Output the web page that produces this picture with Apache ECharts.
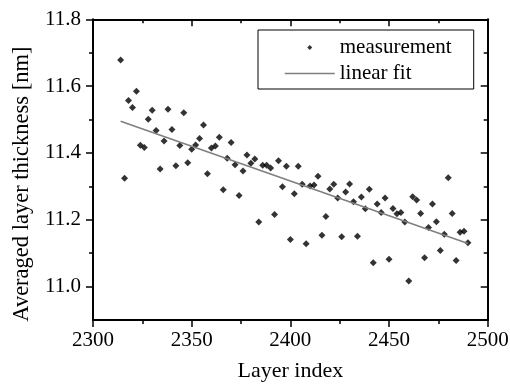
<!DOCTYPE html>
<html><head><meta charset="utf-8">
<script src="https://cdn.jsdelivr.net/npm/echarts@6/dist/echarts.min.js"></script>
<style>html,body{margin:0;padding:0;background:#fff}#c{width:510px;height:385px}</style>
</head><body><div id="c"></div>
<script>
const layerIndex = [2314,2316,2318,2320,2322,2324,2326,2328,2330,2332,2334,2336,2338,2340,2342,2344,2346,2348,2350,2352,
  2354,2356,2358,2360,2362,2364,2366,2368,2370,2372,2374,2376,2378,2380,2382,2384,2386,2388,2390,2392,
  2394,2396,2398,2400,2402,2404,2406,2408,2410,2412,2414,2416,2418,2420,2422,2424,2426,2428,2430,2432,
  2434,2436,2438,2440,2442,2444,2446,2448,2450,2452,2454,2456,2458,2460,2462,2464,2466,2468,2470,2472,
  2474,2476,2478,2480,2482,2484,2486,2488,2490];
const thickness = [11.678,11.324,11.557,11.536,11.585,11.423,11.416,11.501,11.528,11.467,
  11.352,11.436,11.531,11.470,11.362,11.422,11.520,11.371,11.411,11.424,
  11.443,11.484,11.338,11.415,11.421,11.447,11.290,11.384,11.431,11.365,
  11.273,11.346,11.394,11.369,11.382,11.193,11.363,11.363,11.355,11.216,
  11.377,11.299,11.360,11.141,11.278,11.360,11.306,11.128,11.301,11.304,
  11.330,11.154,11.210,11.292,11.306,11.265,11.149,11.283,11.307,11.254,
  11.151,11.268,11.233,11.291,11.071,11.247,11.222,11.265,11.082,11.234,
  11.218,11.222,11.193,11.017,11.269,11.259,11.219,11.086,11.177,11.247,
  11.194,11.108,11.157,11.326,11.219,11.078,11.163,11.166,11.131];
const fitX = [2314, 2490];
const fitY = [11.495, 11.129];
const yMajorTicks = [11.0, 11.2, 11.4, 11.6, 11.8];
const yMinorTicks = [11.1, 11.3, 11.5, 11.7];
const seriesNames = ['measurement', 'linear fit'];
const xTitle = 'Layer index';
const yTitle = 'Averaged layer thickness [nm]';

const FONT = "'Liberation Serif','Times New Roman',serif";
const AX = {color:'#000', width:2};
const FIT = '#7f7f7f';
const chart = echarts.init(document.getElementById('c'), null, {renderer:'canvas'});

function xAx(pos, inside, withLabel){
  return {type:'value', position:pos, min:2300, max:2500, interval:50,
    axisLine:{show:true, onZero:false, lineStyle:AX},
    axisTick:{show:true, inside:inside, length:7, lineStyle:{color:'#000', width:1.5}},
    minorTick:{show:true, splitNumber:2, length:4, lineStyle:{color:'#000', width:1.5}},
    axisLabel:{show:withLabel, margin:10, fontFamily:FONT, fontSize:21, color:'#000',
      formatter:function(v){return String(v);}},
    splitLine:{show:false}, minorSplitLine:{show:false}};
}
function yAx(pos, inside, line, ticks, len, withLabel){
  return {type:'value', position:pos, min:10.9, max:11.8,
    axisLine:{show:line, onZero:false, lineStyle:AX},
    axisTick:{show:true, inside:inside, length:len, customValues:ticks, lineStyle:{color:'#000', width:1.5}},
    axisLabel:{show:withLabel, customValues:ticks, margin:12, fontFamily:FONT, fontSize:21, color:'#000',
      formatter:function(v){return v.toFixed(1);}},
    splitLine:{show:false}};
}
const x0 = xAx('bottom', false, true);
x0.name = xTitle; x0.nameLocation = 'middle'; x0.nameGap = 40;
x0.nameTextStyle = {fontFamily:FONT, fontSize:22, color:'#000'};
const y0 = yAx('left', false, true, yMajorTicks, 7, true);
y0.name = yTitle; y0.nameLocation = 'middle'; y0.nameGap = 59;
y0.nameTextStyle = {fontFamily:FONT, fontSize:22.5, color:'#000', padding:[0,29,0,0]};

chart.setOption({
  animation:false,
  backgroundColor:'#fff',
  grid:{left:93, right:22.3, top:19.3, bottom:65, containLabel:false, outerBoundsMode:'none'},
  xAxis:[x0, xAx('top', true, false)],
  yAxis:[y0,
    yAx('left', false, false, yMinorTicks, 4, false),
    yAx('right', true, true, yMajorTicks, 7, false),
    yAx('right', true, false, yMinorTicks, 4, false)],
  legend:{orient:'vertical', left:258, top:30, padding:[7,22,5,26], itemGap:5,
    itemWidth:50, itemHeight:5, symbolKeepAspect:true, borderColor:'#000', borderWidth:1, borderRadius:0,
    textStyle:{fontFamily:FONT, fontSize:21, color:'#000'},
    data:[{name:seriesNames[0], icon:'path://M1,0L2,1L1,2L0,1Z', itemStyle:{color:'#000'}},
          {name:seriesNames[1], itemStyle:{opacity:0}, lineStyle:{color:FIT, width:1.5, opacity:1}}]},
  series:[
    {name:seriesNames[0], type:'scatter', xAxisIndex:0, yAxisIndex:0, symbol:'diamond', symbolSize:7,
      itemStyle:{color:'#000'}, data:layerIndex.map(function(x,i){return [x, thickness[i]];})},
    {name:seriesNames[1], type:'line', xAxisIndex:0, yAxisIndex:0, symbol:'none', showSymbol:false,
      lineStyle:{color:FIT, width:1.5}, itemStyle:{color:FIT},
      data:fitX.map(function(x,i){return [x, fitY[i]];})}
  ]
});
</script></body></html>
